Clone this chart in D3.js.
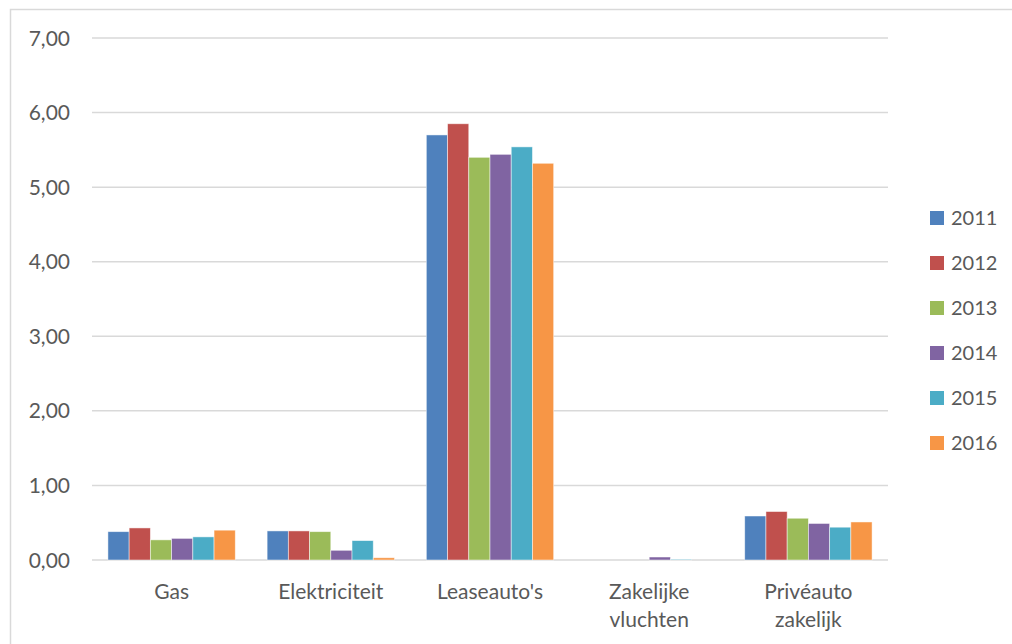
<!DOCTYPE html>
<html>
<head>
<meta charset="utf-8">
<script src="https://cdn.jsdelivr.net/npm/d3@7"></script>
<style>
  body { margin: 0; background: #fff; }
  text { font-family: Lato, "Open Sans", sans-serif; fill: #595959; }
</style>
</head>
<body>
<div id="chart"></div>
<script>
'use strict';

// chart data
const categories = ["Gas", "Elektriciteit", "Leaseauto's", "Zakelijke vluchten", "Privéauto zakelijk"];
const years = ["2011", "2012", "2013", "2014", "2015", "2016"];
const values2011 = [0.38, 0.39, 5.70, 0.00, 0.59];
const values2012 = [0.43, 0.39, 5.85, 0.00, 0.65];
const values2013 = [0.27, 0.38, 5.40, 0.00, 0.56];
const values2014 = [0.29, 0.13, 5.44, 0.04, 0.49];
const values2015 = [0.31, 0.26, 5.54, 0.01, 0.44];
const values2016 = [0.40, 0.03, 5.32, 0.00, 0.51];
const yTicks = [0, 1, 2, 3, 4, 5, 6, 7];

const seriesValues = [values2011, values2012, values2013, values2014, values2015, values2016];
const colors = ["#4F81BD", "#C0504D", "#9BBB59", "#8064A2", "#4BACC6", "#F79646"];

const width = 1012, height = 644;
const plot = { left: 92, right: 888, top: 38, bottom: 560 };

const svg = d3.select("#chart").append("svg")
    .attr("width", width)
    .attr("height", height);

// outer chart border
svg.append("rect")
    .attr("x", 10.5).attr("y", 9.5)
    .attr("width", 1010).attr("height", 650)
    .attr("fill", "none")
    .attr("stroke", "#d9d9d9")
    .attr("stroke-width", 1.5);

const x0 = d3.scaleBand()
    .domain(categories)
    .range([plot.left, plot.right])
    .paddingInner(0)
    .paddingOuter(0);

// 6 bars + gap of 1.5 bar widths per category
const barW = x0.bandwidth() / 7.5;
const x1 = d3.scaleBand()
    .domain(years)
    .range([barW * 0.75, barW * 6.75]);

const y = d3.scaleLinear()
    .domain([0, 7])
    .range([plot.bottom, plot.top]);

// gridlines
svg.append("g")
    .selectAll("line")
    .data(yTicks)
    .enter()
    .append("line")
    .attr("x1", plot.left)
    .attr("x2", plot.right)
    .attr("y1", d => y(d))
    .attr("y2", d => y(d))
    .attr("stroke", "#d9d9d9")
    .attr("stroke-width", 1.5);

// y tick labels
svg.append("g")
    .selectAll("text")
    .data(yTicks)
    .enter()
    .append("text")
    .attr("x", 70)
    .attr("y", d => y(d))
    .attr("dy", "0.36em")
    .attr("text-anchor", "end")
    .style("font-size", "21px")
    .text(d => d.toFixed(2).replace(".", ","));

// bars
const groups = svg.append("g")
    .selectAll("g")
    .data(years)
    .enter()
    .append("g")
    .attr("fill", (d, i) => colors[i]);

groups.selectAll("rect")
    .data((d, i) => categories.map((c, j) => ({ cat: c, year: d, v: seriesValues[i][j] })))
    .enter()
    .filter(d => d.v > 0)
    .append("rect")
    .attr("x", d => x0(d.cat) + x1(d.year))
    .attr("y", d => y(d.v))
    .attr("width", x1.bandwidth())
    .attr("height", d => y(0) - y(d.v))
    .attr("stroke", "#ffffff")
    .attr("stroke-opacity", 0.6)
    .attr("stroke-width", 0.8);

// category labels, wrapped onto two lines where needed
const catLabels = svg.append("g")
    .selectAll("text")
    .data(categories)
    .enter()
    .append("text")
    .attr("text-anchor", "middle")
    .attr("y", 599)
    .style("font-size", "21px");

catLabels.each(function (d) {
    const words = d.split(" ");
    const t = d3.select(this);
    words.forEach((w, i) => {
        t.append("tspan")
            .attr("x", x0(d) + x0.bandwidth() / 2)
            .attr("dy", i === 0 ? 0 : 28)
            .text(w);
    });
});

// legend
const legend = svg.append("g")
    .selectAll("g")
    .data(years)
    .enter()
    .append("g")
    .attr("transform", (d, i) => `translate(930, ${211 + i * 45})`);

legend.append("rect")
    .attr("width", 14)
    .attr("height", 14)
    .attr("fill", (d, i) => colors[i]);

legend.append("text")
    .attr("x", 21)
    .attr("y", 7)
    .attr("dy", "0.36em")
    .style("font-size", "20px")
    .text(d => d);
</script>
</body>
</html>
